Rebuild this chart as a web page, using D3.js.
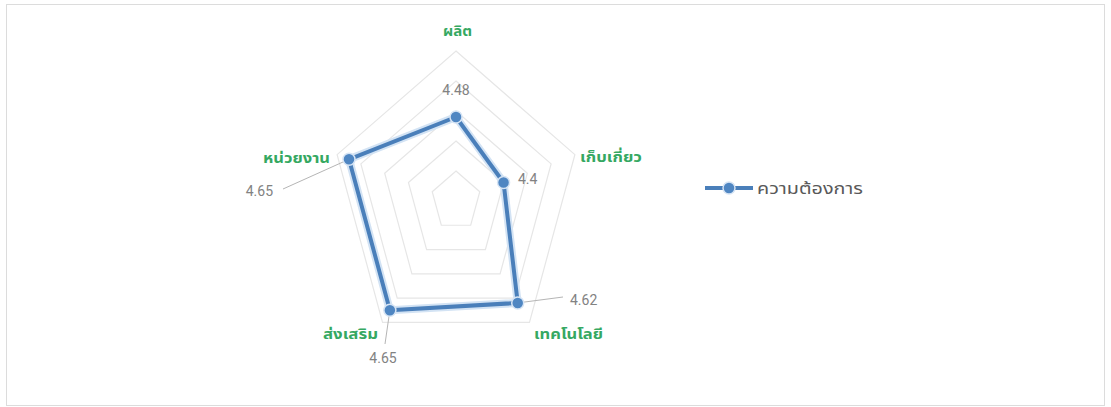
<!DOCTYPE html>
<html>
<head>
<meta charset="utf-8">
<script src="https://cdn.jsdelivr.net/npm/d3@7.9.0/dist/d3.min.js"></script>
<style>
  html, body { margin: 0; padding: 0; background: #fff; }
  svg { display: block; }
</style>
</head>
<body>
<svg id="chart" width="1111" height="407"></svg>
<script>
// categories clockwise from the top
const categories = ["ผลิต", "เก็บเกี่ยว", "เทคโนโลยี", "ส่งเสริม", "หน่วยงาน"];
const values = [4.48, 4.4, 4.62, 4.65, 4.65];
const seriesName = "ความต้องการ";
const gridLevels = [4.3, 4.4, 4.5, 4.6, 4.7];

const svg = d3.select("#chart");

// outer frame
svg.append("rect")
    .attr("x", 6.5).attr("y", 4.5)
    .attr("width", 1098).attr("height", 401)
    .attr("fill", "#fff")
    .attr("stroke", "#dcdcdc");

// the picture is a little stretched vertically, so keep two radii
const cx = 456, cy = 201;
const rx = 125, ry = 150;
const rScale = d3.scaleLinear().domain([4.2, 4.7]).range([0, 1]);
const angle = d3.scaleLinear().domain([0, categories.length]).range([0, 2 * Math.PI]);

function pt(i, v) {
    const a = angle(i), r = rScale(v);
    return [cx + Math.sin(a) * r * rx, cy - Math.cos(a) * r * ry];
}

const g = svg.append("g");

// grid rings
const ringLine = d3.line().curve(d3.curveLinearClosed);
gridLevels.forEach(lv => {
    g.append("path")
        .attr("d", ringLine(categories.map((c, i) => pt(i, lv))))
        .attr("fill", "none")
        .attr("stroke", "#e6e6e6")
        .attr("stroke-width", 1.2);
});

// category labels (green), widths follow the stretched screenshot
const catPos = [
    { x: 443, y: 36, w: 29 },
    { x: 580, y: 162, w: 62 },
    { x: 534, y: 339, w: 69 },
    { x: 323, y: 339, w: 55 },
    { x: 263, y: 163, w: 67 }
];
categories.forEach((c, i) => {
    g.append("text")
        .attr("x", catPos[i].x).attr("y", catPos[i].y)
        .attr("textLength", catPos[i].w)
        .attr("lengthAdjust", "spacingAndGlyphs")
        .attr("fill", "#35a862")
        .attr("font-family", "'Noto Sans Thai', Tahoma, 'DejaVu Sans', sans-serif")
        .attr("font-size", 14)
        .attr("font-weight", "bold")
        .text(c);
});

// series line with a soft halo
const pts = values.map((v, i) => pt(i, v));
g.append("path")
    .attr("d", ringLine(pts))
    .attr("fill", "none")
    .attr("stroke", "#d3e3f4")
    .attr("stroke-width", 8)
    .attr("stroke-linejoin", "round");
g.append("path")
    .attr("d", ringLine(pts))
    .attr("fill", "none")
    .attr("stroke", "#4a7fba")
    .attr("stroke-width", 4)
    .attr("stroke-linejoin", "round");

// leader lines for some data labels
const leaders = [null, null, [563, 297], [385, 344], [283, 189]];
leaders.forEach((l, i) => {
    if (!l) return;
    g.append("line")
        .attr("x1", pts[i][0]).attr("y1", pts[i][1])
        .attr("x2", l[0]).attr("y2", l[1])
        .attr("stroke", "#b5b5b5")
        .attr("stroke-width", 1);
});

g.selectAll("circle.pt")
    .data(pts)
    .enter()
    .append("circle")
    .attr("class", "pt")
    .attr("cx", d => d[0]).attr("cy", d => d[1])
    .attr("r", 6)
    .attr("fill", "#4f86c2")
    .attr("stroke", "#d6e4f4")
    .attr("stroke-width", 1.5);

// data labels
const valPos = [
    { x: 456, y: 95, anchor: "middle" },
    { x: 518, y: 184, anchor: "start" },
    { x: 570, y: 305, anchor: "start" },
    { x: 383, y: 363, anchor: "middle" },
    { x: 273, y: 196, anchor: "end" }
];
values.forEach((v, i) => {
    g.append("text")
        .attr("x", valPos[i].x).attr("y", valPos[i].y)
        .attr("text-anchor", valPos[i].anchor)
        .attr("fill", "#828282")
        .attr("font-family", "'Liberation Sans Narrow', Roboto, sans-serif")
        .attr("font-size", 14)
        .text(v);
});

// legend
const lg = svg.append("g").attr("transform", "translate(705,188)");
lg.append("line")
    .attr("x1", 0).attr("x2", 48).attr("y1", 0).attr("y2", 0)
    .attr("stroke", "#4a7fba").attr("stroke-width", 4);
lg.append("circle")
    .attr("cx", 24).attr("cy", 0).attr("r", 6)
    .attr("fill", "#4f86c2").attr("stroke", "#d6e4f4").attr("stroke-width", 1.5);
lg.append("text")
    .attr("x", 52).attr("y", 6)
    .attr("textLength", 106)
    .attr("lengthAdjust", "spacingAndGlyphs")
    .attr("fill", "#595959")
    .attr("font-family", "'Noto Sans Thai', Tahoma, 'DejaVu Sans', sans-serif")
    .attr("font-size", 15)
    .text(seriesName);
</script>
</body>
</html>
